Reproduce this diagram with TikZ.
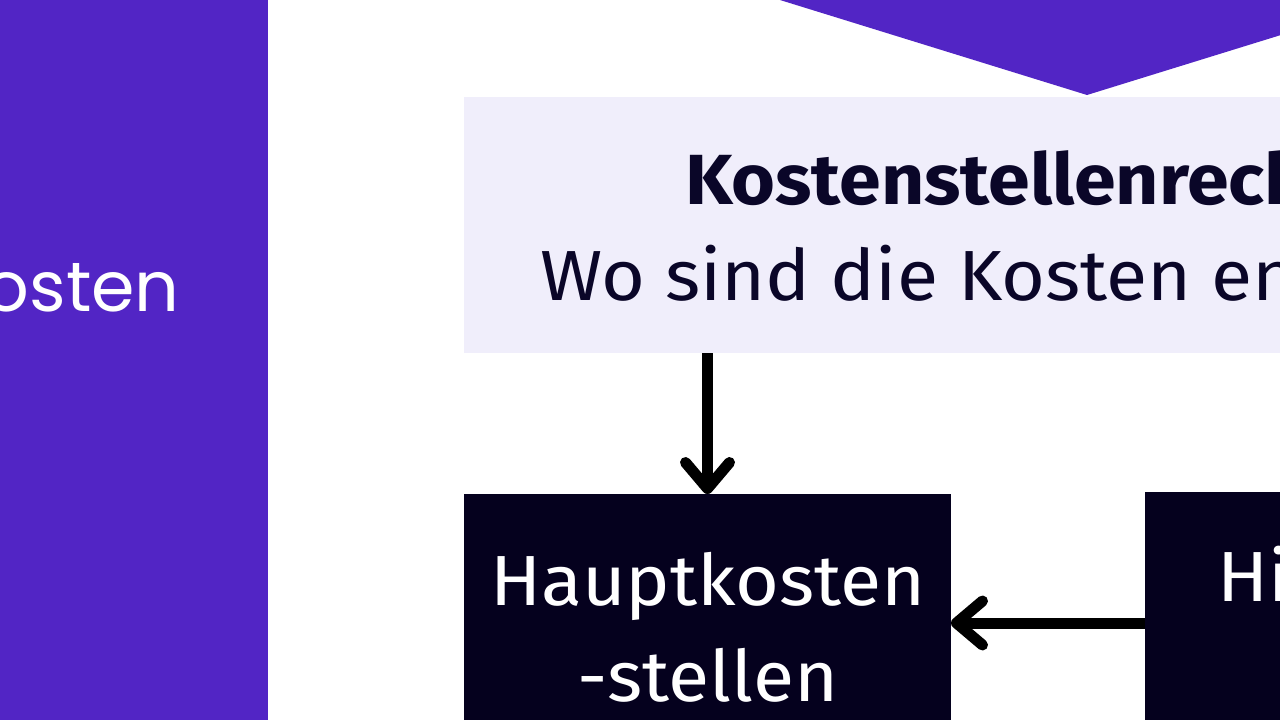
\documentclass[tikz,border=0pt]{standalone}
\usepackage{fontspec}
\setmainfont{Fira Sans}[FakeStretch=1.06]
\newfontfamily\geofont{Poppins}
\usetikzlibrary{arrows.meta}
\definecolor{purp}{RGB}{82,37,197}
\definecolor{navy}{RGB}{5,1,30}
\definecolor{lightp}{RGB}{240,238,251}
\definecolor{ink}{RGB}{10,6,40}
\tikzset{
  box/.style={draw=none, inner sep=0pt, outer sep=0pt},
  arr/.style={line width=11pt, -{Straight Barb[round, length=26pt, width=44pt]}},
  wtxt/.style={text=white, inner sep=0pt, font=\fontsize{71}{80}\selectfont},
  dtxt/.style={text=ink, inner sep=0pt, font=\fontsize{71}{80}\selectfont},
}
\begin{document}
\begin{tikzpicture}[x=1pt, y=-1pt]
\useasboundingbox (0,0) rectangle (1280,720);
\clip (0,0) rectangle (1280,720);
\fill[white] (0,0) rectangle (1280,720);
% left purple panel
\node[box, fill=purp, minimum width=268pt, minimum height=760pt, anchor=north west] (left) at (0,-20) {};
\node[wtxt, anchor=base east, font=\geofont\fontsize{70}{80}\selectfont] (lefttxt) at (180,311) {osten};
% top chevron
\fill[purp] (780,-10) -- (780,0) -- (1087,95) -- (1394,0) -- (1394,-10) -- cycle;
% light box
\node[box, fill=lightp, minimum width=1246pt, minimum height=256pt, anchor=north west] (kst) at (464,97) {};
\node[dtxt, anchor=base west, font=\bfseries\fontsize{71}{80}\selectfont] (kt1) at (685,204) {Kostenstellenrech};
\node[dtxt, anchor=base west] (kt2) at (540,300) {Wo sind die Kosten en};
% Hauptkostenstellen box
\node[box, fill=navy, minimum width=487pt, minimum height=300pt, anchor=north west] (hk) at (464,494) {};
\node[wtxt, anchor=base] (hk1) at (708,605) {Hauptkosten};
\node[wtxt, anchor=base] (hk2) at (708,701) {-stellen};
% Hilfskostenstellen box
\node[box, fill=navy, minimum width=487pt, minimum height=300pt, anchor=north west] (hs) at (1145,492) {};
\node[wtxt, anchor=base west] (hs1) at (1217,601) {Hi};
% arrows
\coordinate (ly) at (0,623);
\draw[arr] (kst.south -| hk.north) -- (hk.north);
\draw[arr] (hs.north west |- ly) -- (hk.north east |- ly);
\end{tikzpicture}
\end{document}
